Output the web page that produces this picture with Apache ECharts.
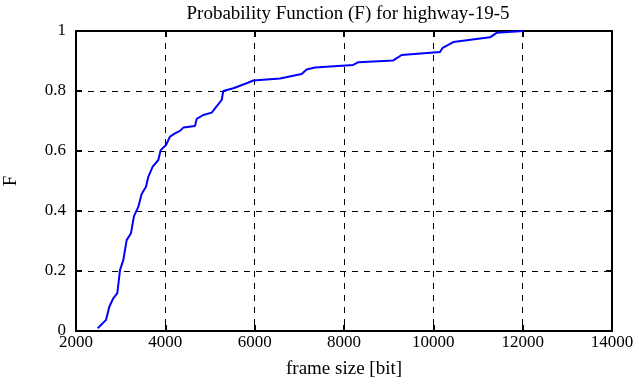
<!DOCTYPE html>
<html>
<head>
<meta charset="utf-8">
<script src="https://cdn.jsdelivr.net/npm/echarts@6/dist/echarts.min.js"></script>
<style>html,body{margin:0;padding:0;background:#fff}#c{width:639px;height:387px}</style>
</head>
<body>
<div id="c"></div>
<script>
var frameSize = [2486,2672,2746,2836,2925,2985,3060,3134,3231,3298,3395,3470,3567,3619,3717,3843,3896,4015,4104,4216,4328,4403,4664,4702,4850,5038,5112,5261,5298,5522,5821,5970,6567,7052,7164,7350,8208,8320,9104,9291,10149,10209,10447,11268,11418,12014];
var probF = [0.009,0.037,0.081,0.109,0.126,0.203,0.237,0.303,0.326,0.383,0.414,0.457,0.481,0.514,0.548,0.570,0.603,0.620,0.648,0.659,0.667,0.678,0.683,0.707,0.720,0.728,0.742,0.770,0.800,0.809,0.826,0.835,0.842,0.857,0.872,0.878,0.887,0.896,0.902,0.920,0.930,0.944,0.963,0.979,0.994,1.000];
var xTicks = [2000,4000,6000,8000,10000,12000,14000];
var yTicks = [0,0.2,0.4,0.6,0.8,1];
var titleText = 'Probability Function (F) for highway-19-5';
var xName = 'frame size [bit]';
var yName = 'F';

var font = '"Liberation Serif","Times New Roman",serif';
var chart = echarts.init(document.getElementById('c'), null, {renderer:'canvas'});
var pts = frameSize.map(function(x,i){return [x, probF[i]];});
var axBase = {
  axisLine:{show:true, onZero:false, lineStyle:{color:'#000', width:2}},
  axisTick:{show:true, inside:true, length:6, lineStyle:{color:'#000', width:2}}
};
chart.setOption({
  animation:false,
  title:{text:titleText, left:343, top:0, textAlign:'center',
    textStyle:{fontFamily:font, fontSize:19, fontWeight:'normal', color:'#000'}},
  grid:{left:76, right:27, top:31, bottom:56, containLabel:false, outerBoundsMode:'none'},
  xAxis:[
    Object.assign({type:'value', min:xTicks[0], max:xTicks[xTicks.length-1], interval:2000, position:'bottom',
      name:xName, nameLocation:'middle', nameGap:29,
      nameTextStyle:{fontFamily:font, fontSize:19, color:'#000'},
      axisLabel:{fontFamily:font, fontSize:17, color:'#000', margin:3,
        formatter:function(v){return String(v);}},
      splitLine:{show:true, lineStyle:{color:'#000', type:[6,6], width:1}}}, axBase),
    Object.assign({type:'value', min:xTicks[0], max:xTicks[xTicks.length-1], interval:2000, position:'top',
      axisLabel:{show:false}, splitLine:{show:false}}, axBase)
  ],
  yAxis:[
    Object.assign({type:'value', min:0, max:1, interval:0.2, position:'left',
      name:yName, nameLocation:'middle', nameGap:55, nameRotate:90,
      nameTextStyle:{fontFamily:font, fontSize:19, color:'#000'},
      axisLabel:{fontFamily:font, fontSize:17, color:'#000', margin:10, padding:[5,0,0,0],
        formatter:function(v){return String(Math.round(v*10)/10);}},
      splitLine:{show:true, lineStyle:{color:'#000', type:[6,6], width:1}}}, axBase),
    Object.assign({type:'value', min:0, max:1, interval:0.2, position:'right',
      axisLabel:{show:false}, splitLine:{show:false}}, axBase)
  ],
  series:[{type:'line', data:pts, showSymbol:false, symbol:'none',
    lineStyle:{color:'#0000ff', width:2}, xAxisIndex:0, yAxisIndex:0}]
});
</script>
</body>
</html>
